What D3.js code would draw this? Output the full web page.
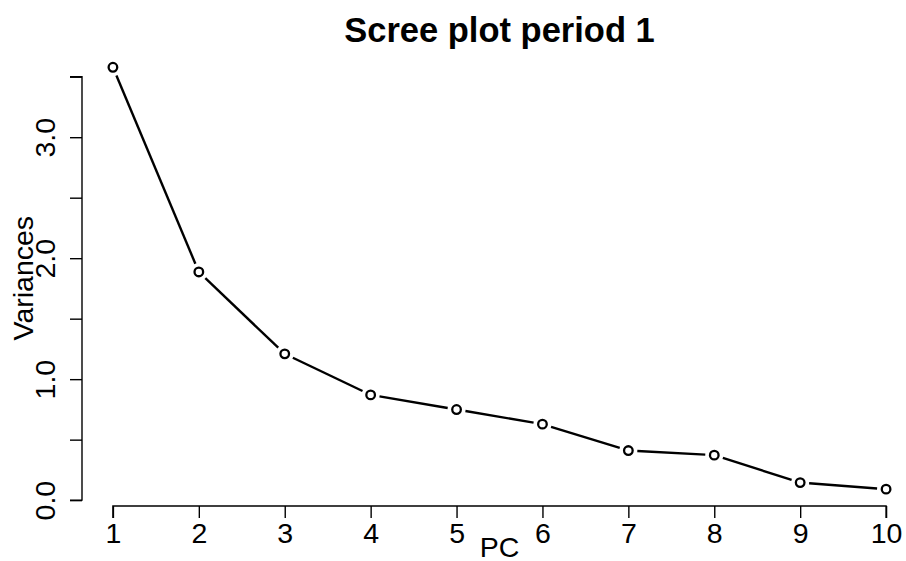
<!DOCTYPE html>
<html>
<head>
<meta charset="utf-8">
<script src="https://cdn.jsdelivr.net/npm/d3@7"></script>
<style>
  body { margin: 0; background: #fff; }
  svg { display: block; font-family: "Liberation Sans", Arial, sans-serif; }
</style>
</head>
<body>
<svg id="chart" width="906" height="561"></svg>
<script>
const components = [1, 2, 3, 4, 5, 6, 7, 8, 9, 10];
const variances = [3.578, 1.886, 1.209, 0.870, 0.749, 0.628, 0.410, 0.372, 0.145, 0.091];
const xTicks = [1, 2, 3, 4, 5, 6, 7, 8, 9, 10];
const yTicks = [0, 0.5, 1, 1.5, 2, 2.5, 3, 3.5];
const yLabels = {0: "0.0", 1: "1.0", 2: "2.0", 3: "3.0"};

const width = 906;
const height = 561;
const margin = {top: 50.4, right: 906 - 917, bottom: 561 - 506, left: 82};
const fontSize = 28.5;

const svg = d3.select("#chart");

// R-style 4% padding on both axes
function padded(extent) {
  let d = (extent[1] - extent[0]) * 0.04;
  return [extent[0] - d, extent[1] + d];
}

const x = d3.scaleLinear()
  .domain(padded(d3.extent(components)))
  .range([margin.left, width - margin.right]);
const y = d3.scaleLinear()
  .domain(padded(d3.extent(variances)))
  .range([height - margin.bottom, margin.top]);

// x axis
let xAxis = svg.append("g")
  .attr("transform", `translate(0, ${height - margin.bottom})`)
  .call(d3.axisBottom(x).tickValues(xTicks).tickSize(12).tickFormat(d3.format("d")));
xAxis.select(".domain")
  .attr("d", `M${x(xTicks[0])},12V0H${x(xTicks[xTicks.length - 1])}V12`);
xAxis.selectAll("text")
  .attr("dy", null)
  .attr("y", 37)
  .attr("font-size", fontSize)
  .attr("font-family", "Liberation Sans, Arial, sans-serif")
  .attr("fill", "#000");

// y axis, labels rotated like R's las = 0
let yAxis = svg.append("g")
  .attr("transform", `translate(${margin.left}, 0)`)
  .call(d3.axisLeft(y).tickValues(yTicks).tickSize(12).tickFormat(d => yLabels[d] || ""));
yAxis.select(".domain")
  .attr("d", `M-12,${y(yTicks[0])}H0V${y(yTicks[yTicks.length - 1])}H-12`);
yAxis.selectAll("text")
  .attr("dy", null)
  .attr("x", 0)
  .attr("y", -27)
  .attr("text-anchor", "middle")
  .attr("transform", "rotate(-90)")
  .attr("font-size", fontSize)
  .attr("font-family", "Liberation Sans, Arial, sans-serif")
  .attr("fill", "#000");

svg.selectAll(".domain, .tick line")
  .attr("stroke", "#000")
  .attr("stroke-width", 1.4);

// line segments with gaps around the points (type = "b")
const gap = 9;
let segs = d3.pairs(components.map((c, i) => [x(c), y(variances[i])]));
svg.append("g")
  .selectAll("line")
  .data(segs).enter()
  .append("line")
  .each(function([a, b]) {
    let dx = b[0] - a[0], dy = b[1] - a[1];
    let len = Math.hypot(dx, dy);
    let ux = dx / len, uy = dy / len;
    d3.select(this)
      .attr("x1", a[0] + ux * gap)
      .attr("y1", a[1] + uy * gap)
      .attr("x2", b[0] - ux * gap)
      .attr("y2", b[1] - uy * gap);
  })
  .attr("stroke", "#000")
  .attr("stroke-width", 2.4);

svg.append("g")
  .selectAll("circle")
  .data(components).enter()
  .append("circle")
  .attr("cx", d => x(d))
  .attr("cy", (d, i) => y(variances[i]))
  .attr("r", 4.3)
  .attr("fill", "none")
  .attr("stroke", "#000")
  .attr("stroke-width", 2.3);

// titles
svg.append("text")
  .attr("x", (x.range()[0] + x.range()[1]) / 2)
  .attr("y", 42)
  .attr("text-anchor", "middle")
  .attr("font-size", 34.5)
  .attr("font-weight", "bold")
  .text("Scree plot period 1");

svg.append("text")
  .attr("x", (x.range()[0] + x.range()[1]) / 2)
  .attr("y", 557)
  .attr("text-anchor", "middle")
  .attr("font-size", fontSize)
  .text("PC");

svg.append("text")
  .attr("transform", `translate(33, ${(y.range()[0] + y.range()[1]) / 2}) rotate(-90)`)
  .attr("text-anchor", "middle")
  .attr("font-size", fontSize)
  .text("Variances");
</script>
</body>
</html>
